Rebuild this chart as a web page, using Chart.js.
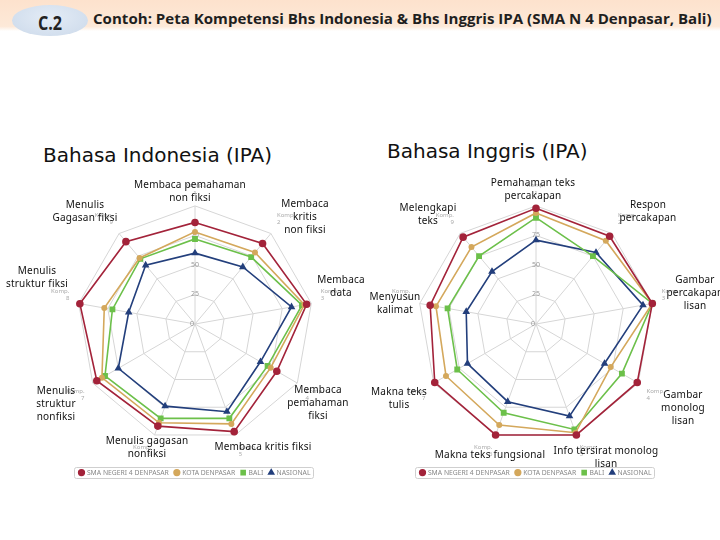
<!DOCTYPE html>
<html>
<head>
<meta charset="utf-8">
<script src="https://cdn.jsdelivr.net/npm/chart.js@4.4.1/dist/chart.umd.min.js"></script>
<style>
  body { margin: 0; width: 720px; height: 540px; position: relative; background: #fff; overflow: hidden; font-family: 'Noto Sans', sans-serif; }
  #band { position: absolute; left: 0; top: 0; width: 720px; height: 31px; background: linear-gradient(#fde2cd, #fde9d8 85%, #fff); }
  #badge { position: absolute; left: 12px; top: 5px; width: 76px; height: 31px; border-radius: 50%; background: radial-gradient(ellipse at 50% 40%, #e4ecf6, #cbd9ea); }
  #badge span { position: absolute; left: 0; width: 76px; top: 5px; text-align: center; font: bold 19px 'Open Sans', sans-serif; color: #222; transform: scaleX(0.85); }
  #title { position: absolute; left: 93px; top: 8px; line-height: 15px; white-space: nowrap; font: bold 15px 'Open Sans', sans-serif; color: #1f1f1f; transform-origin: 0 0; }
  .sub { position: absolute; font: 20px 'DejaVu Sans', sans-serif; line-height: 20px; color: #111; white-space: nowrap; }
  .lbl { position: absolute; width: 200px; text-align: center; font: 10px 'Noto Sans', sans-serif; letter-spacing: 0.2px; line-height: 13px; color: #111; white-space: nowrap; }
  .wrap { position: absolute; }
</style>
</head>
<body>
<div id="band"></div>
<div id="badge"><span>C.2</span></div>
<div id="title">Contoh: Peta Kompetensi Bhs Indonesia &amp; Bhs Inggris IPA (SMA N 4 Denpasar, Bali)</div>
<div class="sub" style="left:43px; top:145px">Bahasa Indonesia (IPA)</div>
<div class="sub" style="left:387px; top:141px">Bahasa Inggris (IPA)</div>

<div class="wrap" style="left:45px; top:178px; width:300px; height:308px"><canvas id="indo"></canvas></div>
<div class="wrap" style="left:386px; top:178px; width:300px; height:308px"><canvas id="inggris"></canvas></div>

<div class="lbl" style="left:90px; top:178px">Membaca pemahaman<br>non fiksi</div>
<div class="lbl" style="left:205px; top:197px">Membaca<br>kritis<br>non fiksi</div>
<div class="lbl" style="left:241px; top:273px">Membaca<br>data</div>
<div class="lbl" style="left:218px; top:383px">Membaca<br>pemahaman<br>fiksi</div>
<div class="lbl" style="left:163px; top:440px">Membaca kritis fiksi</div>
<div class="lbl" style="left:47px; top:434px">Menulis gagasan<br>nonfiksi</div>
<div class="lbl" style="left:-44px; top:384px">Menulis<br>struktur<br>nonfiksi</div>
<div class="lbl" style="left:-63px; top:264px">Menulis<br>struktur fiksi</div>
<div class="lbl" style="left:-15px; top:198px">Menulis<br>Gagasan fiksi</div>

<div class="lbl" style="left:433px; top:176px">Pemahaman teks<br>percakapan</div>
<div class="lbl" style="left:548px; top:198px">Respon<br>percakapan</div>
<div class="lbl" style="left:595px; top:273px">Gambar<br>percakapan<br>lisan</div>
<div class="lbl" style="left:583px; top:388px">Gambar<br>monolog<br>lisan</div>
<div class="lbl" style="left:506px; top:444px">Info tersirat monolog<br>lisan</div>
<div class="lbl" style="left:390px; top:448px">Makna teks fungsional</div>
<div class="lbl" style="left:299px; top:385px">Makna teks<br>tulis</div>
<div class="lbl" style="left:295px; top:290px">Menyusun<br>kalimat</div>
<div class="lbl" style="left:328px; top:201px">Melengkapi<br>teks</div>

<script>
// nomor kompetensi di sumbu radar
const kompLabels = ['1', '2', '3', '4', '5', '6', '7', '8', '9'];
const tickValues = [0, 25, 50, 75, 100];
const seriesNames = ['SMA NEGERI 4 DENPASAR', 'KOTA DENPASAR', 'BALI', 'NASIONAL'];

// Bahasa Indonesia (IPA)
const indoSma = [86, 89, 96, 80, 97, 92, 96, 99, 91];
const indoKota = [78, 79, 94, 74, 90, 89, 91, 78, 73];
const indoBali = [72, 74, 92, 71, 85, 85, 88, 71, 72];
const indoNasional = [60, 63, 83, 64, 79, 74, 75, 57, 65];

// Bahasa Inggris (IPA)
const inggrisSma = [98, 97, 100, 99, 100, 100, 99, 91, 96];
const inggrisKota = [94, 92, 100, 73, 98, 91, 88, 86, 85];
const inggrisBali = [90, 75, 100, 84, 95, 80, 77, 76, 75];
const inggrisNasional = [71, 79, 92, 67, 83, 70, 67, 60, 58];

const colors = ['#a3233a', '#d4a85c', '#6cc04a', '#233f7c'];
const markers = ['circle', 'circle', 'rect', 'triangle'];
const markerSizes = [3, 2.2, 3, 2.8];

function makeDatasets(values) {
    return values.map(function(v, i) {
        return {
            label: seriesNames[i],
            data: v,
            borderColor: colors[i],
            backgroundColor: colors[i],
            borderWidth: 1.6,
            fill: false,
            pointStyle: markers[i],
            pointRadius: markerSizes[i],
            pointHoverRadius: markerSizes[i]
        };
    });
}

// kotak tipis di sekeliling legenda
const legendFrame = {
    id: 'legendFrame',
    afterDraw(chart) {
        const boxes = chart.legend.legendHitBoxes;
        if (!boxes || !boxes.length) return;
        const ctx = chart.ctx;
        const left = Math.min(...boxes.map(b => b.left)) - 5;
        const right = Math.max(...boxes.map(b => b.left + b.width)) + 3;
        const top = Math.min(...boxes.map(b => b.top)) - 2;
        const bottom = Math.max(...boxes.map(b => b.top + b.height)) + 2;
        ctx.save();
        ctx.strokeStyle = '#cfcfcf';
        ctx.lineWidth = 1;
        ctx.beginPath();
        ctx.roundRect(Math.round(left) + 0.5, Math.round(top) + 0.5, Math.round(right - left), Math.round(bottom - top), 2);
        ctx.stroke();
        ctx.restore();
    }
};

// label "0" di pusat (Chart.js tidak menggambar tick pertama)
const zeroLabel = {
    id: 'zeroLabel',
    afterDraw(chart) {
        const r = chart.scales.r;
        const ctx = chart.ctx;
        ctx.save();
        ctx.font = '7px "Noto Sans", sans-serif';
        ctx.fillStyle = '#999';
        ctx.textAlign = 'center';
        ctx.textBaseline = 'middle';
        ctx.fillText(String(tickValues[0]), r.xCenter - 3, r.yCenter);
        ctx.restore();
    }
};

function makeChart(id, values) {
    return new Chart(document.getElementById(id), {
        type: 'radar',
        data: {
            labels: kompLabels.map(k => ['Komp.', k]),
            datasets: makeDatasets(values)
        },
        options: {
            responsive: true,
            maintainAspectRatio: false,
            animation: false,
            layout: { padding: 0 },
            elements: { line: { tension: 0 } },
            plugins: {
                legend: {
                    position: 'bottom',
                    labels: {
                        usePointStyle: true,
                        boxWidth: 4,
                        boxHeight: 4,
                        padding: 6,
                        color: '#888',
                        font: { size: 6.8, family: 'Noto Sans' }
                    }
                },
                tooltip: { enabled: false }
            },
            scales: {
                r: {
                    min: tickValues[0],
                    max: tickValues[tickValues.length - 1],
                    ticks: {
                        stepSize: 25,
                        showLabelBackdrop: false,
                        color: '#999',
                        font: { size: 7, family: 'Noto Sans' },
                        callback: v => v === 100 ? '' : v
                    },
                    grid: { color: '#d6d6d6' },
                    angleLines: { color: '#d6d6d6' },
                    pointLabels: {
                        color: '#aaa',
                        padding: 4,
                        font: { size: 6, family: 'Noto Sans' }
                    }
                }
            }
        },
        plugins: [legendFrame, zeroLabel]
    });
}

makeChart('indo', [indoSma, indoKota, indoBali, indoNasional]);
makeChart('inggris', [inggrisSma, inggrisKota, inggrisBali, inggrisNasional]);

// judul dipadatkan seperti huruf Calibri
const t = document.getElementById('title');
t.style.transform = 'scaleX(' + (619 / t.offsetWidth) + ')';
</script>
</body>
</html>
